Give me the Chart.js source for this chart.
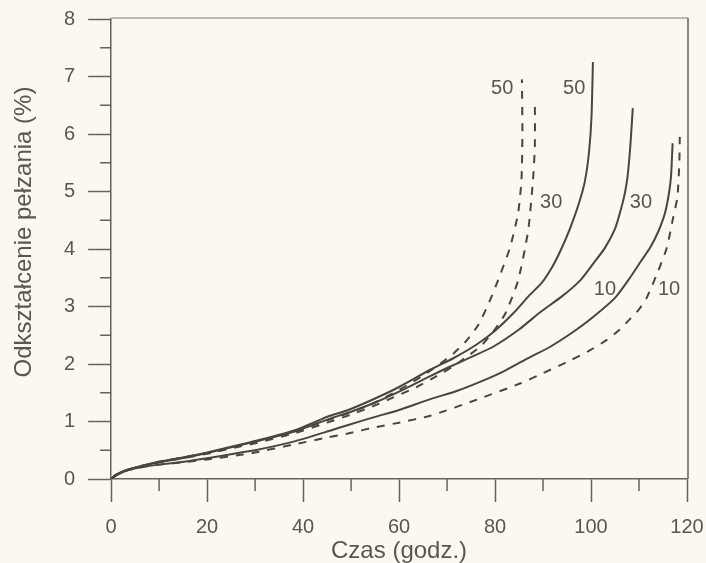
<!DOCTYPE html>
<html>
<head>
<meta charset="utf-8">
<title>Odkształcenie pełzania</title>
<script src="https://cdn.jsdelivr.net/npm/chart.js@4.4.1/dist/chart.umd.min.js"></script>
<style>
  html, body { margin: 0; padding: 0; background: #fbf9ef; }
  #wrap { width: 706px; height: 563px; }
</style>
</head>
<body>
<div id="wrap"><canvas id="creepChart"></canvas></div>
<script>
// wartości: czas [godz.] i odkształcenie [%]
const solid10Time   = [0, 1, 3, 6, 10, 16, 20, 27, 30, 38, 45.6, 49.4, 55, 60, 66.5, 72, 77.5, 82, 87.3, 91.5, 97, 101.2, 105, 107.7, 110.5, 112.3, 114, 115.4, 116.3, 116.7, 117];
const solid10Strain = [0, 0.06, 0.14, 0.2, 0.25, 0.31, 0.36, 0.46, 0.5, 0.65, 0.84, 0.94, 1.08, 1.2, 1.39, 1.53, 1.71, 1.88, 2.12, 2.3, 2.6, 2.87, 3.15, 3.45, 3.8, 4.02, 4.3, 4.62, 5.0, 5.3, 5.84];

const solid30Time   = [0, 1, 3, 6, 10, 16, 20, 27, 30, 38, 45.6, 50, 55, 60, 66.5, 70, 75, 79.6, 85, 89.4, 94, 97.7, 100.5, 102.9, 105, 106, 107, 107.6, 108.2, 108.7];
const solid30Strain = [0, 0.07, 0.15, 0.22, 0.29, 0.38, 0.45, 0.59, 0.65, 0.82, 1.05, 1.17, 1.33, 1.52, 1.79, 1.93, 2.12, 2.3, 2.6, 2.9, 3.18, 3.45, 3.75, 4.02, 4.35, 4.62, 4.95, 5.25, 5.8, 6.45];

const solid50Time   = [0, 1, 3, 6, 10, 16, 20, 27, 30, 38, 45.6, 49.4, 55, 60, 66.5, 71.3, 76, 80, 84, 87, 89.8, 92, 93.8, 95.6, 97.5, 98.75, 99.6, 100.1, 100.4];
const solid50Strain = [0, 0.07, 0.15, 0.22, 0.3, 0.39, 0.46, 0.6, 0.66, 0.84, 1.1, 1.2, 1.4, 1.6, 1.9, 2.1, 2.33, 2.58, 2.9, 3.18, 3.42, 3.7, 4.0, 4.35, 4.8, 5.19, 5.7, 6.3, 7.25];

const dashed10Time   = [0, 1, 3, 6, 10, 16, 20, 27, 30, 38, 45, 49.8, 55, 60, 66.5, 76.2, 85.2, 90, 95.6, 100, 103.3, 106, 108.1, 110, 111.6, 114, 115.8, 117, 118, 118.4, 118.5];
const dashed10Strain = [0, 0.06, 0.14, 0.2, 0.25, 0.3, 0.34, 0.42, 0.46, 0.6, 0.72, 0.8, 0.9, 0.98, 1.1, 1.38, 1.66, 1.84, 2.06, 2.25, 2.42, 2.6, 2.78, 2.95, 3.15, 3.62, 4.02, 4.5, 4.9, 5.5, 5.95];

const dashed30Time   = [0, 1, 3, 6, 10, 16, 20, 27, 30, 38, 45, 50, 55, 58, 63.7, 67, 71.3, 74, 76.9, 79.5, 82.1, 84.8, 86.9, 87.9, 88.3, 88.3];
const dashed30Strain = [0, 0.07, 0.15, 0.22, 0.29, 0.38, 0.44, 0.57, 0.62, 0.79, 0.98, 1.12, 1.28, 1.39, 1.6, 1.75, 1.96, 2.12, 2.3, 2.55, 2.87, 3.45, 4.32, 5.19, 5.8, 6.6];

const dashed50Time   = [0, 1, 3, 6, 10, 16, 20, 27, 30, 38, 45, 50, 55, 60, 65, 68, 71.3, 74, 76.5, 78.5, 80.6, 83.1, 84.8, 85.5, 85.7, 85.6];
const dashed50Strain = [0, 0.07, 0.15, 0.22, 0.3, 0.39, 0.45, 0.58, 0.64, 0.82, 1.02, 1.16, 1.33, 1.55, 1.8, 1.97, 2.18, 2.4, 2.68, 3.02, 3.45, 4.02, 4.62, 5.19, 6.0, 6.95];

const xMajorTicks = [0, 20, 40, 60, 80, 100, 120];
const xMinorTicks = [10, 30, 50, 70, 90, 110];
const yMajorTicks = [0, 1, 2, 3, 4, 5, 6, 7, 8];
const yMinorTicks = [0.5, 1.5, 2.5, 3.5, 4.5, 5.5, 6.5, 7.5];

// opisy krzywych (w jednostkach osi)
const curveLabels = [
  { text: '50', x: 81.5, y: 6.79 },
  { text: '50', x: 96.5, y: 6.79 },
  { text: '30', x: 91.7, y: 4.81 },
  { text: '30', x: 110.4, y: 4.81 },
  { text: '10', x: 102.9, y: 3.29 },
  { text: '10', x: 116.25, y: 3.29 }
];

const INK = '#4a453f';
const AXIS = '#66615a';
const TEXT = '#5a5650';
const FONT = "'Liberation Sans', Arial, sans-serif";

function toPoints(xs, ys) {
  return xs.map((x, i) => ({ x: x, y: ys[i] }));
}

function curve(label, xs, ys, dashed) {
  return {
    label: label,
    data: toPoints(xs, ys),
    borderColor: INK,
    borderWidth: 2,
    borderDash: dashed ? [8, 8] : [],
    pointRadius: 0,
    tension: 0.2,
    fill: false
  };
}

const extras = {
  id: 'extras',
  afterDraw(chart) {
    const { ctx, chartArea: a, scales: { x, y } } = chart;
    ctx.save();
    // ramka: góra jasna, prawa ciemna
    ctx.lineWidth = 1.5;
    ctx.strokeStyle = '#a8a49c';
    ctx.beginPath();
    ctx.moveTo(a.left, a.top - 1);
    ctx.lineTo(a.right + 1, a.top - 1);
    ctx.stroke();
    ctx.strokeStyle = AXIS;
    ctx.beginPath();
    ctx.moveTo(a.right + 1, a.top - 1);
    ctx.lineTo(a.right + 1, a.bottom);
    ctx.stroke();

    // krótkie podziałki
    ctx.lineWidth = 1.5;
    ctx.strokeStyle = AXIS;
    ctx.beginPath();
    xMinorTicks.forEach(v => {
      const px = x.getPixelForValue(v);
      ctx.moveTo(px, a.bottom);
      ctx.lineTo(px, a.bottom + 12);
    });
    yMinorTicks.forEach(v => {
      const py = y.getPixelForValue(v);
      ctx.moveTo(a.left - 11, py);
      ctx.lineTo(a.left, py);
    });
    ctx.stroke();

    // etykiety krzywych
    ctx.fillStyle = TEXT;
    ctx.font = '20px ' + FONT;
    ctx.textAlign = 'center';
    ctx.textBaseline = 'middle';
    curveLabels.forEach(l => {
      ctx.fillText(l.text, x.getPixelForValue(l.x), y.getPixelForValue(l.y));
    });

    // tytuł osi Y
    ctx.font = '24px ' + FONT;
    ctx.translate(24, (a.top + a.bottom) / 2 - 17);
    ctx.rotate(-Math.PI / 2);
    ctx.fillText('Odkształcenie pełzania (%)', 0, 0);
    ctx.restore();
  }
};

document.addEventListener('DOMContentLoaded', function() {
  const ctx = document.getElementById('creepChart').getContext('2d');
  new Chart(ctx, {
    type: 'line',
    data: {
      datasets: [
        curve('10', solid10Time, solid10Strain, false),
        curve('30', solid30Time, solid30Strain, false),
        curve('50', solid50Time, solid50Strain, false),
        curve('10 (przerywana)', dashed10Time, dashed10Strain, true),
        curve('30 (przerywana)', dashed30Time, dashed30Strain, true),
        curve('50 (przerywana)', dashed50Time, dashed50Strain, true)
      ]
    },
    options: {
      responsive: true,
      maintainAspectRatio: false,
      animation: false,
      layout: { padding: { left: 51, right: 19, top: 19, bottom: 0 } },
      plugins: {
        legend: { display: false },
        tooltip: { enabled: false }
      },
      scales: {
        x: {
          type: 'linear',
          min: 0,
          max: 120,
          afterBuildTicks: s => { s.ticks = xMajorTicks.map(v => ({ value: v })); },
          afterFit: s => { s.paddingLeft = 0; s.paddingRight = 0; },
          ticks: { color: TEXT, padding: 13, font: { family: FONT, size: 20 } },
          grid: { drawOnChartArea: false, drawTicks: true, tickLength: 23, tickColor: AXIS, tickWidth: 1.5 },
          border: { color: AXIS, width: 1.5 },
          title: {
            display: true,
            text: 'Czas (godz.)',
            color: TEXT,
            font: { family: FONT, size: 24, lineHeight: 1 },
            padding: { top: -13, bottom: 0 }
          }
        },
        y: {
          type: 'linear',
          min: 0,
          max: 8,
          afterBuildTicks: s => { s.ticks = yMajorTicks.map(v => ({ value: v })); },
          afterFit: s => { s.paddingTop = 0; s.paddingBottom = 0; },
          ticks: { color: TEXT, padding: 13, font: { family: FONT, size: 20 } },
          grid: { drawOnChartArea: false, drawTicks: true, tickLength: 23, tickColor: AXIS, tickWidth: 1.5 },
          border: { color: AXIS, width: 1.5 }
        }
      }
    },
    plugins: [extras]
  });
});
</script>
</body>
</html>
